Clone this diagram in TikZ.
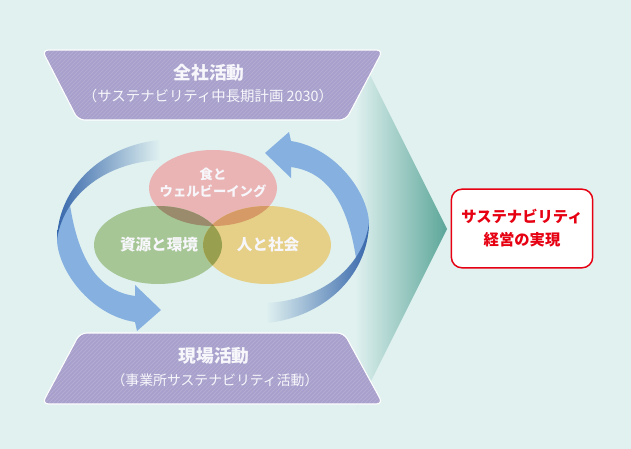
\documentclass[tikz,border=0pt]{standalone}
\usepackage{fontspec}
\setmainfont{Noto Sans CJK JP}
\definecolor{bg}{HTML}{E0F1F0}
\definecolor{purp}{HTML}{A8A0CC}
\definecolor{tealc}{HTML}{5CA699}
\definecolor{lblue}{HTML}{85B0E0}
\definecolor{dblue}{HTML}{3767AB}
\definecolor{pinkc}{HTML}{EAB4B4}
\definecolor{greenc}{HTML}{A6C695}
\definecolor{yellc}{HTML}{E6CF86}
\definecolor{pg}{HTML}{998B6C}
\definecolor{py}{HTML}{D69A66}
\definecolor{gy}{HTML}{98A04F}
\definecolor{pgy}{HTML}{8E7E4A}
\definecolor{redc}{HTML}{E60012}
\definecolor{wtext}{HTML}{F7F7FB}
\tikzset{
  trapfill/.style={fill=purp},
  trapline/.style={draw=white, line width=0.8pt, rounded corners=5pt},
  stripe/.style={draw=white, draw opacity=0.13, line width=0.6pt},
  title/.style={text=wtext, font=\fontsize{13.3}{16}\selectfont\bfseries, inner sep=0pt},
  subtitle/.style={text=wtext, font=\fontsize{10.8}{13}\selectfont, inner sep=0pt},
  venntext/.style={text=wtext, font=\fontsize{11.7}{14}\selectfont\bfseries, inner sep=0pt, align=center},
  redbox/.style={draw=redc, fill=white, line width=1.1pt, rounded corners=8pt,
    minimum width=106pt, minimum height=59pt, text=redc, align=center,
    font=\fontsize{11.5}{17.25}\selectfont\bfseries},
}
\begin{document}
\begin{tikzpicture}[x=0.75pt,y=-0.75pt]
\useasboundingbox (0,0) rectangle (631,449);
\fill[bg] (0,0) rectangle (631,449);

% big chevron
\shade[left color=bg, right color=tealc] (355,45) -- (447,229) -- (355,413) -- cycle;

% top trapezoid
\begin{scope}
\clip[rounded corners=5pt] (42,50) -- (383,50) -- (346,120) -- (78,120) -- cycle;
\fill[trapfill] (0,0) rectangle (631,449);
\foreach \i in {-80,-76,...,400} \draw[stripe] (\i,125) -- ++(80,-80);
\end{scope}
\draw[trapline] (42,50) -- (383,50) -- (346,120) -- (78,120) -- cycle;

% bottom trapezoid
\begin{scope}
\clip[rounded corners=5pt] (80,333) -- (344,333) -- (383,404) -- (42,404) -- cycle;
\fill[trapfill] (0,0) rectangle (631,449);
\foreach \i in {-80,-76,...,400} \draw[stripe] (\i,408) -- ++(80,-80);
\end{scope}
\draw[trapline] (80,333) -- (344,333) -- (383,404) -- (42,404) -- cycle;

\node[title] (t1) at (209,73) {全社活動};
\node[subtitle] (s1) at (208,96) {（サステナビリティ中長期計画 2030）};
\node[title] (t2) at (214,356) {現場活動};
\node[subtitle, font=\fontsize{10.4}{13}\selectfont] (s2) at (215,380) {（事業所サステナビリティ活動）};

% left cycle arrow
\fill[lblue] (70,205) .. controls (60,215) and (57,228) .. (57,240)
  .. controls (58,270) and (90,315) .. (135,322) -- (137,331) -- (161,310) -- (135,285) -- (135,296)
  .. controls (105,292) and (80,270) .. (70,205) -- cycle;
\shade[left color=dblue, right color=bg] (160,140) .. controls (105,145) and (58,185) .. (57,240)
  .. controls (62,200) and (100,163) .. (160,160) -- cycle;

% right cycle arrow
\fill[lblue] (356,258) .. controls (366,248) and (369,235) .. (369,223)
  .. controls (368,193) and (336,148) .. (291,141) -- (289,132) -- (265,153) -- (291,178) -- (291,167)
  .. controls (321,171) and (346,193) .. (356,258) -- cycle;
\shade[left color=bg, right color=dblue] (266,323) .. controls (321,318) and (368,278) .. (369,223)
  .. controls (364,263) and (326,300) .. (266,303) -- cycle;

% venn
\fill[pinkc] (213,188) ellipse [x radius=64, y radius=38];
\fill[greenc] (158,245) ellipse [x radius=64, y radius=39];
\fill[yellc] (267,245) ellipse [x radius=64, y radius=39];
\begin{scope}
\clip (213,188) ellipse [x radius=64, y radius=38];
\fill[pg] (158,245) ellipse [x radius=64, y radius=39];
\fill[py] (267,245) ellipse [x radius=64, y radius=39];
\clip (158,245) ellipse [x radius=64, y radius=39];
\fill[pgy] (267,245) ellipse [x radius=64, y radius=39];
\end{scope}
\begin{scope}
\clip (158,245) ellipse [x radius=64, y radius=39];
\clip (267,245) ellipse [x radius=64, y radius=39];
\fill[gy] (158,200) rectangle (267,290);
\clip (213,188) ellipse [x radius=64, y radius=38];
\fill[pgy] (158,200) rectangle (267,290);
\end{scope}

\node[venntext, font=\fontsize{10}{13}\selectfont\bfseries] (food) at (213,183) {食と\\ウェルビーイング};
\node[venntext] (env) at (159,245) {資源と環境};
\node[venntext] (soc) at (268,245) {人と社会};

% goal box
\node[redbox] (goal) at (522,228.5) {サステナビリティ\\経営の実現};
\end{tikzpicture}
\end{document}
